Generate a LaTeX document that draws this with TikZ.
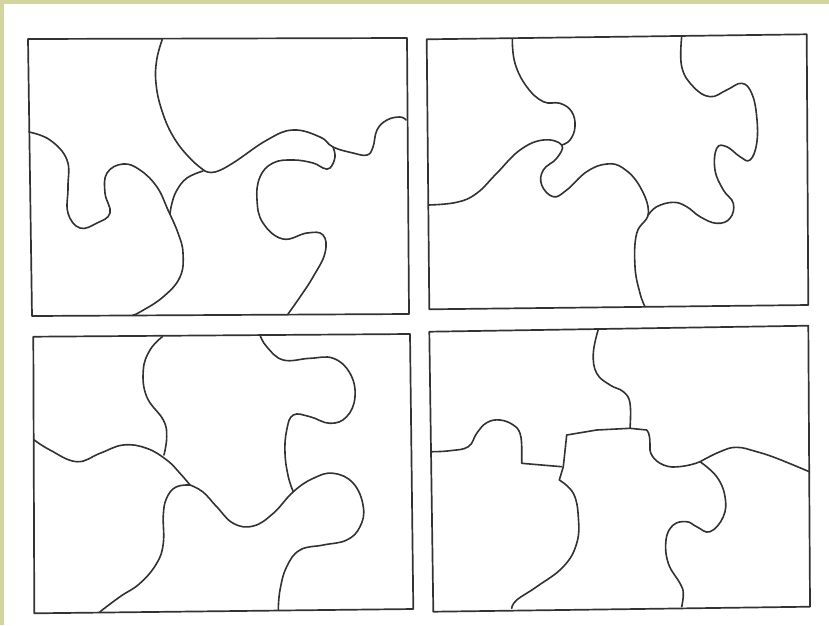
\documentclass[tikz,border=0pt]{standalone}
\definecolor{khaki}{RGB}{212,212,160}
\definecolor{ink}{RGB}{50,50,50}
\tikzset{
  frame/.style={draw=ink, line width=1.7pt, line join=round},
  cut/.style={draw=ink, line width=1.6pt, line cap=round, line join=round},
  sm/.style={smooth, tension=0.7},
}
\begin{document}
\begin{tikzpicture}[x=1pt,y=-1pt]
\useasboundingbox (0,0) rectangle (829,625);
\fill[white] (0,0) rectangle (829,625);
\fill[khaki] (0,0) rectangle (829,3.5);
\fill[khaki] (0,0) rectangle (3.5,625);

% ---------- Panel 1 (top-left)
\draw[frame] (28,39) -- (407,38) -- (409,314) -- (32,316) -- cycle;
\draw[cut] plot[sm] coordinates {(162.3,39.3) (156.7,60) (156,83.3) (161.7,110) (173.3,136.7) (190,158.3) (205,171)};
\draw[cut] plot[sm] coordinates {(205,171) (215,172) (233,163) (267,140) (293,130) (320,137) (333,147) (353,153) (367,155) (373,147) (377,130) (387,120) (400,117) (406,120)};
\draw[cut] plot[sm] coordinates {(333,147) (335,157) (330,168) (323,168) (313,163) (293,160) (273,163) (260,177) (257,200) (263,223) (283,239) (307,233) (323,235) (325,253) (313,277) (300,297) (288,314)};
\draw[cut] plot[sm] coordinates {(29,132) (50,140) (67,160) (68,187) (68,213) (80,228) (97,223) (110,213) (105,193) (107,173) (123,164) (140,170) (157,187) (168,210) (178,233) (183,253) (180,277) (163,297) (140,312) (133,315)};
\draw[cut] plot[sm] coordinates {(203,171) (187,178) (177,190) (172,203) (170,214)};

% ---------- Panel 2 (top-right)
\draw[frame] (426.7,39.3) -- (806.7,34.3) -- (808.3,305) -- (429.3,309.3) -- cycle;
\draw[cut] plot[sm] coordinates {(512.3,39.3) (515,63.3) (526.7,86.7) (543.3,101.7) (560,103.3) (571.7,111.7) (575,126.7) (570,140) (561.7,145)};
\draw[cut] plot[sm] coordinates {(428.3,205) (456.7,202.3) (476.7,193.3) (496.7,173.3) (520,150) (543.3,140) (561.7,145) (556.7,158.3) (543.3,170) (541.7,185) (553.3,196.7) (566.7,190) (586.7,171.7) (606.7,164) (623.3,168.3) (640,186.7) (648.3,213.3) (636.7,233.3) (635,266.7) (640,293.3) (645,306.7)};
\draw[cut] plot[sm] coordinates {(681.7,36.7) (681.7,66.7) (693.3,86.7) (710,96.7) (726.7,90) (741.7,83.3) (751.7,93.3) (756.7,116.7) (756.7,143.3) (750,160) (740,156.7) (726.7,146.7) (716.7,148.3) (715,170) (723.3,190) (733.3,203.3) (730,218.3) (716.7,223.3) (700,216.7) (686.7,206.7) (673.3,202.3) (656.7,206.7) (648.3,215)};

% ---------- Panel 3 (bottom-left)
\draw[frame] (33.3,336.7) -- (410,334) -- (413.3,609) -- (34.3,613.3) -- cycle;
\draw[cut] plot[sm] coordinates {(162.3,336.7) (150,350) (143.3,370) (146.7,396.7) (163.3,420) (166.7,436.7) (164,455)};
\draw[cut] plot[sm] coordinates {(34.3,440) (50,450) (76.7,461.7) (100,453.3) (123.3,445) (146.7,448.3) (166.7,460) (180,473.3) (190,485)};
\draw[cut] plot[sm] coordinates {(260,335) (266.7,346.7) (283.3,360) (310,358.3) (333.3,358.3) (350,373.3) (355,396.7) (346.7,416.7) (330,423.3) (310,416.7) (293.3,415) (286.7,430) (285,453.3) (288.3,476.7) (293.3,491.7)};
\draw[cut] plot[sm] coordinates {(190,485) (203,492) (216.7,506.7) (233.3,523.3) (253.3,526) (273.3,513.3) (293.3,491.7) (313.3,478.3) (333.3,473.3) (353.3,483.3) (363.3,506.7) (360,526.7) (346.7,540) (323.3,545) (300,550) (286.7,566.7) (280,590) (278.3,610)};
\draw[cut] plot[sm] coordinates {(190,485) (176,487) (166.7,498) (163.3,515) (163.3,543.3) (156.7,563.3) (140,583.3) (120,596.7) (100,611.7)};

% ---------- Panel 4 (bottom-right)
\draw[frame] (429.3,331.7) -- (808.3,325.7) -- (810,606.7) -- (433.3,611.7) -- cycle;
\draw[cut] plot[sm] coordinates {(598.3,329.3) (593.3,353.3) (596.7,373.3) (610,385) (623.3,391.7) (630,403.3) (630,428.3)};
\draw[cut] (566.7,435) -- (596.7,430) -- (630,428.3) -- (646.7,430)
  .. controls (650,433) and (650,440) .. (650,450)
  .. controls (651,458) and (660,466) .. (672,467)
  .. controls (682,467) and (692,465) .. (700,461.7);
\draw[cut] plot[sm] coordinates {(700,461.7) (720,451.7) (736.7,447.3) (756.7,451.7) (776.7,458.3) (809.3,471.7)};
\draw[cut] plot[sm] coordinates {(700,461.7) (716.7,476.7) (725,496.7) (723.3,516.7) (710,531.7) (696.7,526.7) (686.7,521.7) (673.3,525) (666,540) (668.3,563.3) (680,583.3) (683.3,593.3) (681.7,606.7)};
\draw[cut] plot[sm] coordinates {(431.7,451.7) (450,450.7) (468.3,446.7) (476.7,433.3) (486.7,422.7) (500,420) (513.3,425) (520,433.3) (521.7,446.7)};
\draw[cut] (521.7,446.7) -- (521.7,463.3) -- (561.7,466.7);
\draw[cut] (566.7,435) -- (563.3,466.7) -- (559.3,480);
\draw[cut] plot[sm] coordinates {(559.3,480) (573.3,493.3) (578.3,516.7) (576.7,543.3) (563.3,566.7) (536.7,586.7) (516.7,600) (511.7,608.3)};
\end{tikzpicture}
\end{document}
